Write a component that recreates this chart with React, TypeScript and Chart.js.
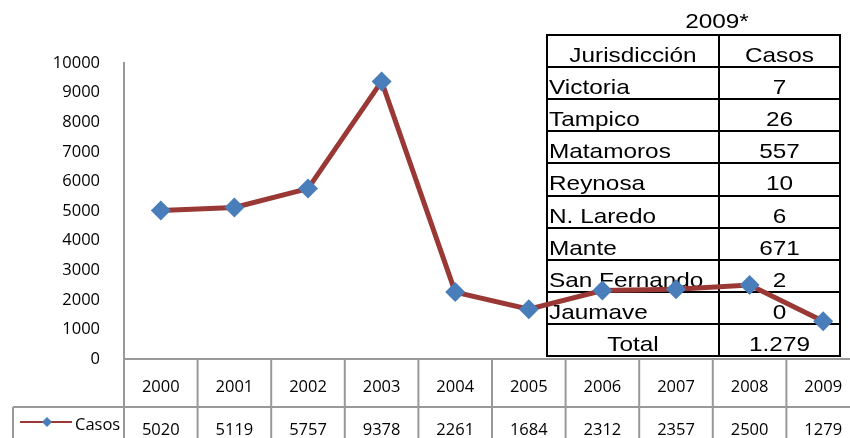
import React, { useEffect, useRef } from "react";
import { Chart, registerables } from "chart.js";

Chart.register(...registerables);

const years = ["2000", "2001", "2002", "2003", "2004", "2005", "2006", "2007", "2008", "2009"];
const casos = [5020, 5119, 5757, 9378, 2261, 1684, 2312, 2357, 2500, 1279];
const seriesName = "Casos";
const yMin = 0;
const yMax = 10000;
const yStep = 1000;

const tableTitle = "2009*";
const tableHeaders = ["Jurisdicción", "Casos"];
const jurisdicciones = ["Victoria", "Tampico", "Matamoros", "Reynosa", "N. Laredo", "Mante", "San Fernando", "Jaumave"];
const casosJur = ["7", "26", "557", "10", "6", "671", "2", "0"];
const totalRow = ["Total", "1.279"];

const LINE_COLOR = "#993835";
const MARKER_COLOR = "#4A7EBB";
const GRID_GREY = "#999999";
const CHART_FONT = "'Open Sans', sans-serif";
const CHART_FONT_SIZE = 16.5;
const TABLE_FONT = "'Liberation Sans', Arial, sans-serif";

function stretchedText(ctx: CanvasRenderingContext2D, text: string, x: number, y: number, align: CanvasTextAlign, sx: number) {
  ctx.save();
  ctx.translate(x, y);
  ctx.scale(sx, 1);
  ctx.textAlign = align;
  ctx.textBaseline = "alphabetic";
  ctx.fillText(text, 0, 0);
  ctx.restore();
}

const overlayTablePlugin = {
  id: "overlayTable",
  beforeDatasetsDraw(chart: any) {
    const ctx: CanvasRenderingContext2D = chart.ctx;
    const left = 547, mid = 719, right = 840, top = 35, bottom = 356;
    const rows = [tableHeaders, ...jurisdicciones.map((j, i) => [j, casosJur[i]]), totalRow];
    const rh = (bottom - top) / rows.length;
    ctx.save();
    ctx.fillStyle = "#ffffff";
    ctx.fillRect(left, top, right - left, bottom - top);
    ctx.strokeStyle = "#000000";
    ctx.lineWidth = 2;
    ctx.strokeRect(left, top, right - left, bottom - top);
    ctx.beginPath();
    ctx.moveTo(mid, top);
    ctx.lineTo(mid, bottom);
    for (let i = 1; i < rows.length; i++) {
      const y = Math.round(top + i * rh);
      ctx.moveTo(left, y);
      ctx.lineTo(right, y);
    }
    ctx.stroke();
    ctx.fillStyle = "#000000";
    ctx.font = `21px ${TABLE_FONT}`;
    const sx = 1.16;
    stretchedText(ctx, tableTitle, 717, 28, "center", sx);
    rows.forEach((r, i) => {
      const base = top + i * rh + 27;
      if (i === 0 || i === rows.length - 1) {
        stretchedText(ctx, r[0], (left + mid) / 2, base, "center", sx);
      } else {
        stretchedText(ctx, r[0], left + 2, base, "left", sx);
      }
      stretchedText(ctx, r[1], (mid + right) / 2, base, "center", sx);
    });
    ctx.restore();
  },
};

const dataTablePlugin = {
  id: "dataTable",
  afterDraw(chart: any) {
    const ctx: CanvasRenderingContext2D = chart.ctx;
    const x = chart.scales.x;
    const area = chart.chartArea;
    const half = (x.getPixelForValue(1) - x.getPixelForValue(0)) / 2;
    const yTop = area.bottom;
    const yMidRow = 407;
    const yEnd = chart.height;
    const legendLeft = 13;
    ctx.save();
    ctx.strokeStyle = GRID_GREY;
    ctx.lineWidth = 2;
    ctx.beginPath();
    ctx.moveTo(area.left, yTop);
    ctx.lineTo(chart.width, yTop);
    ctx.moveTo(legendLeft, yMidRow);
    ctx.lineTo(chart.width, yMidRow);
    ctx.moveTo(legendLeft, yMidRow);
    ctx.lineTo(legendLeft, yEnd);
    ctx.moveTo(area.left, yTop);
    ctx.lineTo(area.left, yEnd);
    years.forEach((_, i) => {
      const b = x.getPixelForValue(i) + half;
      ctx.moveTo(b, yTop);
      ctx.lineTo(b, yEnd);
    });
    ctx.stroke();

    ctx.fillStyle = "#000000";
    ctx.font = `${CHART_FONT_SIZE}px ${CHART_FONT}`;
    ctx.textAlign = "center";
    ctx.textBaseline = "alphabetic";
    years.forEach((yr, i) => {
      const cx = x.getPixelForValue(i);
      ctx.fillText(yr, cx, 392);
      ctx.fillText(String(casos[i]), cx, 435);
    });

    // legend key
    ctx.strokeStyle = LINE_COLOR;
    ctx.lineWidth = 2;
    ctx.beginPath();
    ctx.moveTo(20, 422);
    ctx.lineTo(72, 422);
    ctx.stroke();
    ctx.fillStyle = MARKER_COLOR;
    ctx.beginPath();
    ctx.moveTo(47, 417);
    ctx.lineTo(52, 422);
    ctx.lineTo(47, 427);
    ctx.lineTo(42, 422);
    ctx.closePath();
    ctx.fill();
    ctx.fillStyle = "#000000";
    ctx.textAlign = "left";
    ctx.fillText(seriesName, 75, 430);
    ctx.restore();
  },
};

export default function App() {
  const ref = useRef<HTMLCanvasElement | null>(null);
  useEffect(() => {
    let chart: Chart | null = null;
    let cancelled = false;
    const build = () => {
      if (cancelled || !ref.current) return;
      chart = new Chart(ref.current, {
        type: "line",
        data: {
          labels: years,
          datasets: [
            {
              label: seriesName,
              data: casos,
              borderColor: LINE_COLOR,
              backgroundColor: MARKER_COLOR,
              borderWidth: 5,
              pointStyle: "rectRot",
              pointRadius: 10,
              pointBackgroundColor: MARKER_COLOR,
              pointBorderColor: MARKER_COLOR,
              pointBorderWidth: 0,
              tension: 0,
            },
          ],
        },
        options: {
          responsive: false,
          animation: false,
          devicePixelRatio: 1,
          layout: { padding: { top: 63, bottom: 79, left: 0, right: 20 } },
          plugins: { legend: { display: false }, tooltip: { enabled: false } },
          scales: {
            x: { display: false, offset: true, grid: { display: false } },
            y: {
              min: yMin,
              max: yMax,
              grid: { display: false, drawTicks: false },
              border: { display: true, color: GRID_GREY, width: 2 },
              ticks: {
                stepSize: yStep,
                padding: 24,
                color: "#000000",
                font: { family: CHART_FONT, size: CHART_FONT_SIZE },
                callback: (v: any) => String(v),
              },
              afterFit: (s: any) => {
                s.width = 124;
              },
            },
          },
        },
        plugins: [overlayTablePlugin, dataTablePlugin],
      });
    };
    const fontsApi: any = (document as any).fonts;
    if (fontsApi && fontsApi.load) {
      Promise.all([
        fontsApi.load("16px 'Open Sans'"),
        fontsApi.load("21px 'Liberation Sans'"),
      ]).then(build, build);
    } else {
      build();
    }
    return () => {
      cancelled = true;
      if (chart) chart.destroy();
    };
  }, []);
  return (
    <div style={{ position: "fixed", left: 0, top: 0, width: 850, height: 438, overflow: "hidden", background: "#fff" }}>
      <canvas ref={ref} width={880} height={438} style={{ display: "block", width: 880, height: 438 }} />
    </div>
  );
}
